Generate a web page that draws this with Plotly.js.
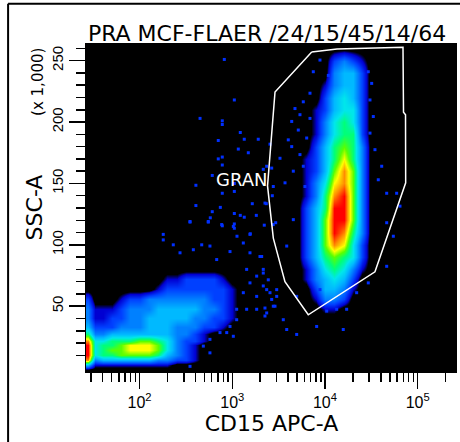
<!DOCTYPE html>
<html>
<head>
<meta charset="utf-8">
<script src="https://cdn.plot.ly/plotly-3.0.1.min.js"></script>
<style>
  html, body { margin: 0; padding: 0; background: #ffffff; }
  #plot { width: 460px; height: 442px; }
</style>
</head>
<body>
<div id="plot"></div>
<script>
// flow plot: CD15 APC-A (log) vs SSC-A (x 1,000)

// density grid, column centres on CD15 APC-A
var xBins = [28, 33, 40, 50, 63, 79, 100, 126, 158, 200,
  251, 316, 398, 501, 631, 794, 1000, 1259, 1585, 1995,
  2512, 3162, 3981, 5012, 6310, 7943, 10000, 12589, 15849, 19953,
  25119, 31623, 39811, 50119, 63096, 79433, 100000, 125893, 158489, 199526, 251189];

// row centres on SSC-A, top to bottom
var yRows = [260, 250, 240, 230, 220, 210, 200, 190, 180, 170, 160, 150, 140, 130, 120, 110,
  100, 90, 80, 72, 64, 56, 48, 40, 33, 27, 22, 18, 14, 10, 6, 2, -2];

// event density 0 (none) .. 10 (highest)
var density = [
  [0,0,0,0,0,0,0,0,0,0, 0,0,0,0,0,0,0,0,0,0, 0,0,0,0,0,0,0,0,0,0, 0,0,0,0,0,0,0,0,0,0,0],
  [0,0,0,0,0,0,0,0,0,0, 0,0,0,0,0,0,0,0,0,0, 0,0,0,0,0,0,0,2,3,2, 1,0,0,0,0,0,0,0,0,0,0],
  [0,0,0,0,0,0,0,0,0,0, 0,0,0,0,0,0,0,0,0,0, 0,0,0,0,0,0,0,3,4,4, 2,0,0,0,0,0,0,0,0,0,0],
  [0,0,0,0,0,0,0,0,0,0, 0,0,0,0,0,0,0,0,0,0, 0,0,0,0,0,0,1,3,4,4, 2,0,0,0,0,0,0,0,0,0,0],
  [0,0,0,0,0,0,0,0,0,0, 0,0,0,0,0,0,0,0,0,0, 0,0,0,0,0,0,2,4,5,4, 2,0,0,0,0,0,0,0,0,0,0],
  [0,0,0,0,0,0,0,0,0,0, 0,0,0,0,0,0,0,0,0,0, 0,0,0,0,0,1,2,4,5,5, 2,0,0,0,0,0,0,0,0,0,0],
  [0,0,0,0,0,0,0,0,0,0, 0,0,0,0,0,0,0,0,0,0, 0,0,0,0,0,1,3,5,6,5, 2,0,0,0,0,0,0,0,0,0,0],
  [0,0,0,0,0,0,0,0,0,0, 0,0,0,0,0,0,0,0,0,0, 0,0,0,0,0,1,3,5,6,6, 2,0,0,0,0,0,0,0,0,0,0],
  [0,0,0,0,0,0,0,0,0,0, 0,0,0,0,0,0,0,0,0,0, 0,0,0,0,0,2,4,6,7,6, 3,0,0,0,0,0,0,0,0,0,0],
  [0,0,0,0,0,0,0,0,0,0, 0,0,0,0,0,0,0,0,0,0, 0,0,0,0,1,2,4,6,8,6, 3,0,0,0,0,0,0,0,0,0,0],
  [0,0,0,0,0,0,0,0,0,0, 0,0,0,0,0,0,0,0,0,0, 0,0,0,0,1,2,4,7,9,7, 3,0,0,0,0,0,0,0,0,0,0],
  [0,0,0,0,0,0,0,0,0,0, 0,0,0,0,0,0,0,0,0,0, 0,0,0,0,1,3,5,8,9,7, 3,0,0,0,0,0,0,0,0,0,0],
  [0,0,0,0,0,0,0,0,0,0, 0,0,0,0,0,0,0,0,0,0, 0,0,0,0,1,3,6,9,10,7, 3,0,0,0,0,0,0,0,0,0,0],
  [0,0,0,0,0,0,0,0,0,0, 0,0,0,0,0,0,0,0,0,0, 0,0,0,0,2,4,6,10,10,7, 3,0,0,0,0,0,0,0,0,0,0],
  [0,0,0,0,0,0,0,0,0,0, 0,0,0,0,0,0,0,0,0,0, 0,0,0,0,2,4,7,10,10,7, 3,0,0,0,0,0,0,0,0,0,0],
  [0,0,0,0,0,0,0,0,0,0, 0,0,0,0,0,0,0,0,0,0, 0,0,0,0,2,4,7,10,9,6, 3,0,0,0,0,0,0,0,0,0,0],
  [0,0,0,0,0,0,0,0,0,0, 0,0,0,0,0,0,0,0,0,0, 0,0,0,0,2,4,7,9,8,5, 2,0,0,0,0,0,0,0,0,0,0],
  [0,0,0,0,0,0,0,0,0,0, 0,0,0,0,0,0,0,0,0,0, 0,0,0,0,2,4,6,7,6,5, 2,0,0,0,0,0,0,0,0,0,0],
  [0,0,0,0,0,0,0,0,0,0, 0,0,0,0,0,0,0,0,0,0, 0,0,0,0,1,3,5,6,5,3, 1,0,0,0,0,0,0,0,0,0,0],
  [0,0,0,0,0,0,0,0,0,1, 1,2,2,2,2,1,0,0,0,0, 0,0,0,0,1,3,4,5,4,2, 0,0,0,0,0,0,0,0,0,0,0],
  [0,0,0,0,0,0,0,0,1,2, 2,2,2,2,2,2,1,0,0,0, 0,0,0,0,0,2,4,4,3,1, 0,0,0,0,0,0,0,0,0,0,0],
  [2,0,0,0,1,2,2,3,3,3, 3,3,3,3,2,2,1,0,0,0, 0,0,0,0,0,1,3,3,2,0, 0,0,0,0,0,0,0,0,0,0,0],
  [3,1,1,1,2,3,3,3,4,4, 4,4,4,3,3,2,1,0,0,0, 0,0,0,0,0,0,1,1,0,0, 0,0,0,0,0,0,0,0,0,0,0],
  [3,1,1,2,2,3,3,4,4,4, 4,4,3,3,2,2,1,0,0,0, 0,0,0,0,0,0,0,0,0,0, 0,0,0,0,0,0,0,0,0,0,0],
  [4,2,2,2,3,3,3,4,4,4, 3,3,3,2,2,1,0,0,0,0, 0,0,0,0,0,0,0,0,0,0, 0,0,0,0,0,0,0,0,0,0,0],
  [6,3,3,4,4,4,4,4,4,4, 3,3,2,1,0,0,0,0,0,0, 0,0,0,0,0,0,0,0,0,0, 0,0,0,0,0,0,0,0,0,0,0],
  [9,5,5,6,6,6,7,7,6,5, 3,2,2,1,0,0,0,0,0,0, 0,0,0,0,0,0,0,0,0,0, 0,0,0,0,0,0,0,0,0,0,0],
  [10,5,6,6,7,8,8,8,7,5, 3,2,1,0,0,0,0,0,0,0, 0,0,0,0,0,0,0,0,0,0, 0,0,0,0,0,0,0,0,0,0,0],
  [10,5,6,7,7,8,8,8,7,5, 3,2,1,0,0,0,0,0,0,0, 0,0,0,0,0,0,0,0,0,0, 0,0,0,0,0,0,0,0,0,0,0],
  [10,5,6,6,7,7,7,7,6,4, 3,2,1,0,0,0,0,0,0,0, 0,0,0,0,0,0,0,0,0,0, 0,0,0,0,0,0,0,0,0,0,0],
  [9,3,4,4,4,4,4,4,3,3, 2,2,1,0,0,0,0,0,0,0, 0,0,0,0,0,0,0,0,0,0, 0,0,0,0,0,0,0,0,0,0,0],
  [4,1,1,1,1,1,1,1,1,1, 0,0,0,0,0,0,0,0,0,0, 0,0,0,0,0,0,0,0,0,0, 0,0,0,0,0,0,0,0,0,0,0],
  [0,0,0,0,0,0,0,0,0,0, 0,0,0,0,0,0,0,0,0,0, 0,0,0,0,0,0,0,0,0,0, 0,0,0,0,0,0,0,0,0,0,0]
];

// single scattered events
var dotX = [820, 1052, 449, 780, 780, 1220, 1346, 1906, 706, 1161, 1489, 706, 780, 780, 608, 1052, 405, 780, 1052,
  1643, 2327, 405, 743, 608, 1052, 1220, 1346, 1816, 350, 551, 579, 780, 1052, 1052, 1563, 2213, 1124, 2551, 2159, 2702, 2940,
  8830, 7480, 10860, 6890, 5834, 4746, 5372, 6890, 4375, 5152, 6348, 4018, 4375, 5372, 3271, 5834, 4553, 2661, 3705, 6082,
  2350, 30570, 33200, 30570, 34600, 40900, 37570, 46300, 29310, 31900,
  2252, 2769, 4553, 3865, 2159, 2445, 3013, 2350, 2661, 2888, 2252, 4950, 8830, 10430, 13370, 17130, 21960, 29310, 46300,
  54600, 46300, 59300, 64400, 15740, 8130, 3550, 2075, 2252,
  350, 769, 1026, 1552, 2769, 180, 231, 468, 574, 945, 1315, 1552, 1989, 273, 380, 679, 1429, 1833, 2159, 1552, 2159,
  2551, 2769, 3013, 1833, 1315, 1115, 1429, 1833, 1115, 945, 737, 574, 487, 3865, 4950, 2350, 1026, 871, 350, 574, 180, 551];
var dotY = [251, 218, 203, 201, 198, 191.5, 186, 186, 185, 178, 175, 170, 171.5, 165, 156.5, 150, 148.5, 142, 143.5,
  133.5, 133.5, 132, 130.5, 127, 125.5, 124, 122.5, 124, 118.5, 118.5, 122, 115.5, 117, 113.5, 109, 116, 107, 182, 161.5, 140, 118,
  250.5, 241, 238, 223.5, 216.5, 211, 206, 203, 200.5, 193.5, 187, 185.5, 180, 173.5, 170.5, 164, 160, 162.5, 150.5, 147.5,
  164, 218, 204.5, 191, 177.5, 164, 153, 142, 241, 231.5,
  134, 147.5, 120.5, 99, 77, 71.5, 63.5, 63.5, 55.5, 50, 48.5, 58, 63.5, 46, 47.5, 47.5, 61, 69, 82.5,
  107, 118, 142, 131.5, 31, 33.5, 39, 90.5, 42,
  119, 116.5, 115, 108.5, 116.5, 104, 100, 100, 99, 94.5, 101.5, 93.5, 90.5, 93.5, 96, 88, 80, 74.5, 80, 69, 66.5,
  61, 50, 58, 58, 61, 47.5, 47.5, 47.5, 39, 33.5, 28.5, 23, 17.5, 31, 27, 44.5, 25.5, 28.5, 1, 12, 108.5, 119];

// GRAN gate outline
var gateX = [7190, 13470, 69400, 70300, 73900, 74200, 34600, 6600, 3700, 2770, 2400, 2520, 2890, 7190];
var gateY = [257, 259.5, 261, 208, 206, 150.5, 78, 43, 70, 105.5, 148, 169, 224.5, 257];

var xTickVals = [100, 1000, 10000, 100000];
var xTickText = ['10<sup>2</sup>', '10<sup>3</sup>', '10<sup>4</sup>', '10<sup>5</sup>'];
var xMinorVals = [30, 40, 50, 60, 70, 80, 90, 200, 300, 400, 500, 600, 700, 800, 900,
  2000, 3000, 4000, 5000, 6000, 7000, 8000, 9000, 20000, 30000, 40000, 50000, 60000, 70000, 80000, 90000, 200000];
var yTickVals = [50, 100, 150, 200, 250];
var yMinorVals = [10, 20, 30, 40, 60, 70, 80, 90, 110, 120, 130, 140, 160, 170, 180, 190, 210, 220, 230, 240, 260];

var densityTrace = {
  type: 'heatmap',
  x: xBins,
  y: yRows,
  z: density,
  zmin: 0,
  zmax: 10,
  zsmooth: 'best',
  showscale: false,
  hoverinfo: 'skip',
  colorscale: [
    [0, 'rgb(0,0,0)'], [0.05, 'rgb(0,0,0)'], [0.1, 'rgb(0,0,210)'], [0.2, 'rgb(0,64,255)'],
    [0.3, 'rgb(0,128,255)'], [0.4, 'rgb(0,185,255)'], [0.5, 'rgb(0,230,235)'], [0.6, 'rgb(0,255,120)'],
    [0.7, 'rgb(90,255,0)'], [0.8, 'rgb(255,255,0)'], [0.9, 'rgb(255,140,0)'], [1, 'rgb(255,0,0)']
  ]
};

var dotTrace = {
  type: 'scatter',
  mode: 'markers',
  x: dotX,
  y: dotY,
  hoverinfo: 'skip',
  marker: { symbol: 'square', size: 3, color: 'rgb(0,48,255)' }
};

var gateTrace = {
  type: 'scatter',
  mode: 'lines',
  x: gateX,
  y: gateY,
  hoverinfo: 'skip',
  line: { color: '#ffffff', width: 1.5 }
};

var axisFont = { family: 'DejaVu Sans, sans-serif', size: 22, color: '#000000' };

var layout = {
  width: 460,
  height: 442,
  showlegend: false,
  paper_bgcolor: '#ffffff',
  plot_bgcolor: '#000000',
  margin: { l: 86, r: 3, t: 43, b: 70 },
  title: {
    text: 'PRA MCF-FLAER /24/15/45/14/64',
    font: axisFont,
    xref: 'paper', x: 0.488, xanchor: 'center',
    yref: 'container', y: 0.925, yanchor: 'middle'
  },
  xaxis: {
    type: 'log',
    range: [1.422, 5.424],
    tickmode: 'array',
    tickvals: xTickVals,
    ticktext: xTickText,
    ticks: 'outside',
    ticklen: 16,
    tickwidth: 1.5,
    tickcolor: '#000000',
    tickfont: { family: 'Liberation Sans, sans-serif', size: 16, color: '#000000' },
    minor: { tickmode: 'array', tickvals: xMinorVals, ticks: 'outside', ticklen: 9, tickwidth: 1.5, tickcolor: '#000000' },
    showgrid: false,
    zeroline: false,
    showline: true,
    linecolor: '#000000',
    title: { text: 'CD15 APC-A', font: axisFont, standoff: 4 }
  },
  yaxis: {
    range: [-3.6, 264.4],
    tickmode: 'array',
    tickvals: yTickVals,
    tickangle: -90,
    ticks: 'outside',
    ticklen: 16,
    tickwidth: 1.5,
    tickcolor: '#000000',
    tickfont: { family: 'Liberation Sans, sans-serif', size: 15, color: '#000000' },
    minor: { tickmode: 'array', tickvals: yMinorVals, ticks: 'outside', ticklen: 9, tickwidth: 1.5, tickcolor: '#000000' },
    showgrid: false,
    zeroline: false,
    showline: true,
    linecolor: '#000000',
    title: { text: 'SSC-A', font: axisFont, standoff: 0 }
  },
  annotations: [
    {
      text: '(x 1,000)', xref: 'paper', yref: 'paper', x: -0.13, y: 0.881,
      xanchor: 'center', yanchor: 'middle',
      textangle: -90, showarrow: false,
      font: { family: 'DejaVu Sans, sans-serif', size: 15, color: '#000000' }
    },
    {
      text: 'GRAN', xref: 'x', yref: 'y', x: 3.105, y: 153,
      showarrow: false,
      font: { family: 'DejaVu Sans, sans-serif', size: 18, color: '#ffffff' }
    }
  ],
  shapes: [
    { type: 'line', xref: 'paper', yref: 'paper', x0: -0.21, x1: -0.21, y0: 1.119, y1: -0.22, line: { color: '#000000', width: 2 } },
    { type: 'line', xref: 'paper', yref: 'paper', x0: -0.21, x1: 1.01, y0: 1.119, y1: 1.119, line: { color: '#000000', width: 2 } }
  ]
};

Plotly.newPlot('plot', [densityTrace, dotTrace, gateTrace], layout, { staticPlot: true });
</script>
</body>
</html>
